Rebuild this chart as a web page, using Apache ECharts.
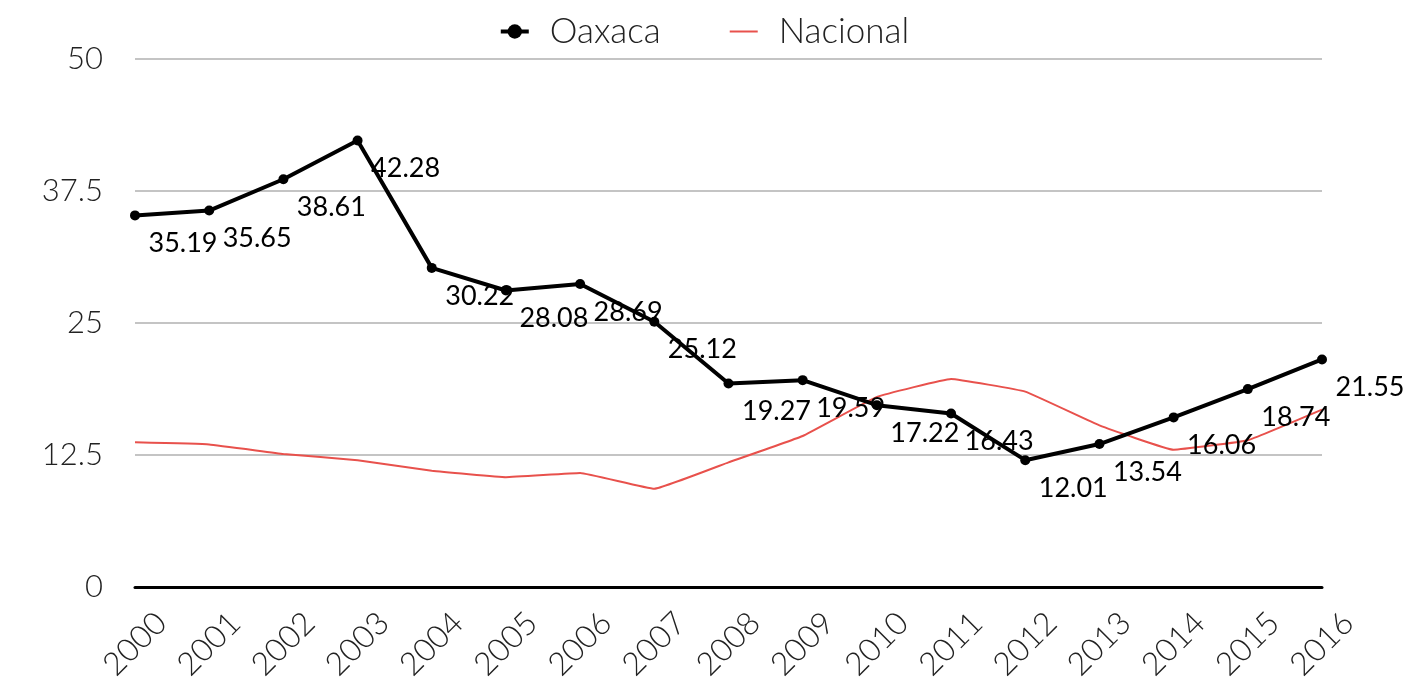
<!DOCTYPE html>
<html>
<head>
<meta charset="utf-8">
<script src="https://cdn.jsdelivr.net/npm/echarts@6/dist/echarts.min.js"></script>
<style>
  html, body { margin: 0; padding: 0; background: #fff; }
  #main { width: 1408px; height: 677px; }
</style>
</head>
<body>
<div id="main"></div>
<script>
// datos
var years = ['2000', '2001', '2002', '2003', '2004', '2005', '2006', '2007', '2008',
             '2009', '2010', '2011', '2012', '2013', '2014', '2015', '2016'];
var oaxaca = [35.19, 35.65, 38.61, 42.28, 30.22, 28.08, 28.69, 25.12, 19.27,
              19.59, 17.22, 16.43, 12.01, 13.54, 16.06, 18.74, 21.55];
var nacional = [13.7, 13.5, 12.6, 12.0, 11.0, 10.4, 10.8, 9.3, 11.8,
                14.3, 18.0, 19.7, 18.5, 15.3, 13.0, 13.9, 16.8];
var yTicks = [0, 12.5, 25, 37.5, 50];

var myChart = echarts.init(document.getElementById('main'));

var option = {
    animation: false,
    textStyle: { fontFamily: 'Lato' },
    legend: {
        top: 9,
        left: 'center',
        itemGap: 68,
        itemWidth: 28,
        itemHeight: 18,
        textStyle: { fontSize: 35, fontWeight: 300, color: '#222', fontFamily: 'Lato', padding: [0, 0, 0, 16] },
        data: [
            { name: 'Oaxaca', lineStyle: { width: 4 } },
            { name: 'Nacional', itemStyle: { opacity: 0 } }
        ]
    },
    grid: { left: 135, right: 86, top: 59, bottom: 90, outerBoundsMode: 'none' },
    xAxis: {
        type: 'category',
        boundaryGap: false,
        data: years,
        axisLine: { lineStyle: { color: '#000', width: 3 } },
        axisTick: { show: false },
        axisLabel: {
            rotate: 45,
            align: 'center',
            verticalAlign: 'middle',
            margin: 57,
            interval: 0,
            fontSize: 32,
            fontWeight: 300,
            color: '#222'
        }
    },
    yAxis: {
        type: 'value',
        min: yTicks[0],
        max: yTicks[yTicks.length - 1],
        interval: 12.5,
        axisLine: { show: false },
        axisTick: { show: false },
        axisLabel: { fontSize: 31, fontWeight: 300, color: '#222', margin: 32 },
        splitLine: { lineStyle: { color: '#c4c4c4', width: 2 } }
    },
    series: [
        {
            name: 'Oaxaca',
            type: 'line',
            data: oaxaca,
            symbol: 'circle',
            symbolSize: 10,
            z: 5,
            itemStyle: { color: '#000' },
            lineStyle: { color: '#000', width: 4 },
            label: {
                show: true,
                position: 'inside',
                offset: [48, 28],
                fontSize: 27,
                color: '#000',
                fontFamily: 'Lato'
            }
        },
        {
            name: 'Nacional',
            type: 'line',
            data: nacional,
            symbol: 'none',
            smooth: 0.08,
            itemStyle: { color: '#e8514c' },
            lineStyle: { color: '#e8514c', width: 2 }
        }
    ]
};

myChart.setOption(option);
</script>
</body>
</html>
